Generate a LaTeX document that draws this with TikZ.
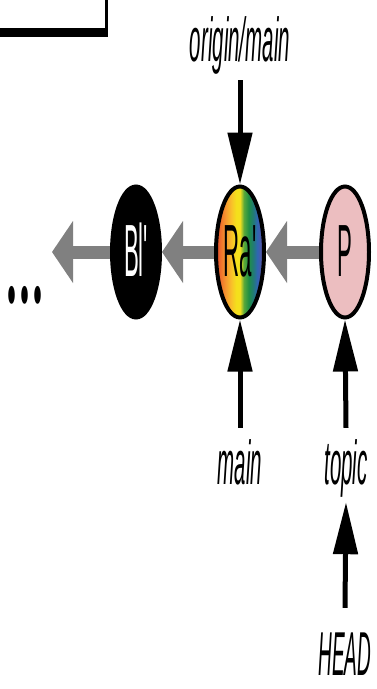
\documentclass[tikz,border=0pt]{standalone}
\usepackage{fontspec}
\setmainfont{Liberation Sans}[Ligatures=TeXOff]
\newfontfamily\dotfont{Poppins}
\usetikzlibrary{arrows.meta,shapes.geometric,backgrounds}
\definecolor{arrowgray}{RGB}{128,128,128}
\definecolor{pinkfill}{RGB}{236,190,192}
\definecolor{rbA}{RGB}{226,71,43}
\definecolor{rbB}{RGB}{238,107,44}
\definecolor{rbC}{RGB}{246,152,47}
\definecolor{rbD}{RGB}{249,193,42}
\definecolor{rbE}{RGB}{244,224,28}
\definecolor{rbF}{RGB}{90,168,58}
\definecolor{rbG}{RGB}{31,143,68}
\definecolor{rbH}{RGB}{34,122,120}
\definecolor{rbI}{RGB}{47,102,179}
\definecolor{rbJ}{RGB}{106,74,158}
\pgfdeclarehorizontalshading{rainbowsh}{100bp}{color(0bp)=(rbA); color(25bp)=(rbA); color(29bp)=(rbB); color(35bp)=(rbC); color(41bp)=(rbD); color(46bp)=(rbE); color(50bp)=(rbE); color(54bp)=(rbF); color(59bp)=(rbG); color(64bp)=(rbH); color(68bp)=(rbI); color(75bp)=(rbJ); color(100bp)=(rbJ)}
\begin{document}
\begin{tikzpicture}[x=1pt,y=-1pt,
  commit/.style={ellipse, draw=black, line width=4pt, minimum width=48pt, minimum height=131pt, inner sep=0pt},
  ctext/.style={font=\fontsize{74}{74}\selectfont, xscale=0.3, inner sep=0pt, anchor=base},
  lbl/.style={font=\fontsize{62}{62}\selectfont\itshape, xscale=0.33, inner sep=0pt, anchor=base, text height=40pt, text depth=8pt},
  ptr/.style={line width=5pt, -{Triangle[length=52pt,width=24pt]}},
  parent/.style={line width=13pt, draw=arrowgray, -{Triangle[length=21pt,width=61pt]}}]
\useasboundingbox (0,0) rectangle (376,689);
% partial box at top-left
\fill[black] (104.5,0) rectangle (108,37);
\fill[black] (0,28) rectangle (108,37);
% commits
\node[commit, fill=black] (bl) at (136,252) {};
\node[commit, shading=rainbowsh] (ra) at (240,252) {};
\node[commit, fill=pinkfill] (p) at (345,252) {};
\node[ctext, text=white] (bltext) at ([yshift=-24pt]bl.center) {Bl'};
\node[ctext] (ratext) at ([yshift=-24pt]ra.center) {Ra'};
\node[ctext] (ptext) at ([yshift=-24pt]p.center) {P};
\coordinate (tail) at (52,252);
\node[font=\fontsize{60}{60}\selectfont\dotfont\bfseries, inner sep=0pt, anchor=base west] (dots) at (7,303) {\scalebox{0.53}[1.6]{.\kern8pt.\kern8pt.}};
% labels
\node[lbl] (om) at (240,61) {origin/main};
\node[lbl] (main) at (240,484) {main};
\node[lbl] (topic) at (346,484) {topic};
\node[lbl, xscale=0.93, text depth=2pt] (head) at (345,675) {HEAD};
% arrows
\begin{pgfonlayer}{background}
\draw[parent] (p.west) -- (ra.east);
\draw[parent] (ra.west) -- (bl.east);
\draw[parent] (bl.west) -- (tail);
\end{pgfonlayer}
\draw[ptr] ([yshift=-11pt]om.south) -- (ra.north);
\draw[ptr] ([yshift=16pt]main.north) -- (ra.south);
\draw[ptr] ([yshift=16pt]topic.north) -- (p.south);
\draw[ptr] ([yshift=27pt]head.north) -- ([yshift=-10pt]topic.south);
\end{tikzpicture}
\end{document}
